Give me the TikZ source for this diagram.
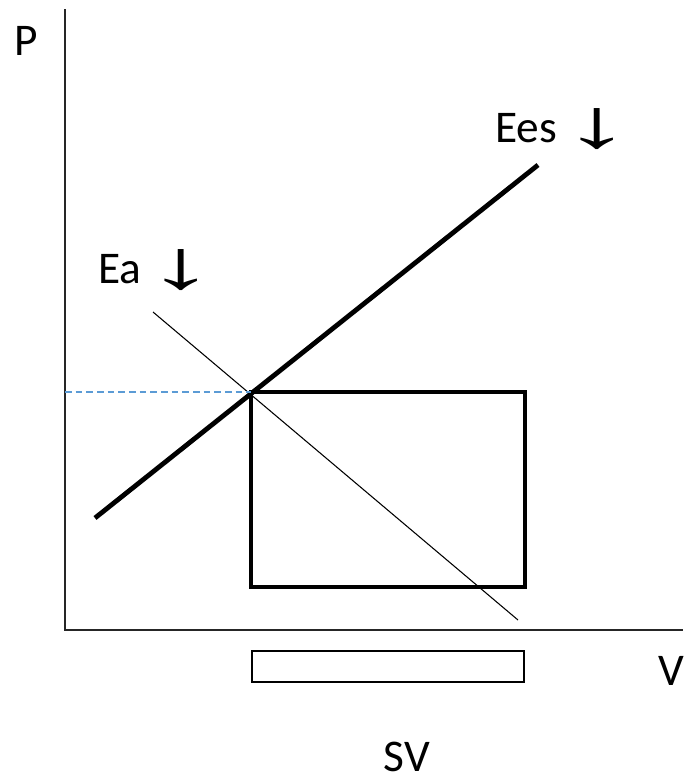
\documentclass[tikz,border=0pt]{standalone}
\usepackage{fontspec}
\setmainfont{Carlito}
\newfontfamily\arrowfont{Liberation Sans}
\usetikzlibrary{positioning,calc}
\definecolor{DiagBlue}{HTML}{5B9BD5}
\newcommand{\downarr}{\hspace{4pt}\raisebox{-4pt}{\scalebox{2}[1]{\arrowfont\fontsize{52}{56}\selectfont\char"2193}}}

\begin{document}
\begin{tikzpicture}[
    x=0.75pt, y=-0.75pt,
    lbl/.style={inner sep=0pt, font=\fontsize{34}{40}\selectfont, anchor=base west},
    axis/.style={line width=0.8pt, draw=black!85},
    thickline/.style={line width=3.6pt, draw=black},
    thinline/.style={line width=0.8pt, draw=black},
    loopbox/.style={line width=3.6pt, draw=black},
    svbox/.style={line width=1.6pt, draw=black},
    level/.style={line width=0.9pt, draw=DiagBlue, dash pattern=on 5pt off 3pt}
  ]
    \useasboundingbox (0,0) rectangle (683,775);
    % axes
    \coordinate (origin) at (65,630);
    \coordinate (ytop) at (65,9);
    \coordinate (xend) at (683,630);
    \draw[axis] (ytop) -- (origin) -- (xend);
    \node[lbl] (plabel) at (14,55) {P};
    \node[lbl] (vlabel) at (658,685) {V};
    % elastance lines
    \coordinate (ees0) at (95,518);
    \coordinate (ees1) at (538,165);
    \coordinate (ea0) at (153,312);
    \coordinate (ea1) at (518,620);
    \draw[thickline] (ees0) -- (ees1);
    \draw[thinline] (ea0) -- (ea1);
    \node[lbl] (eeslabel) at (495,142) {Ees\downarr};
    \node[lbl] (ealabel) at (98,283) {Ea\downarr};
    % pressure-volume loop
    \coordinate (es) at (251,392);
    \coordinate (ed) at (525,587);
    \draw[loopbox] (es) rectangle (ed);
    \coordinate (pes) at (65,392);
    \draw[level] (pes) -- (es);
    % stroke volume
    \coordinate (sv0) at (252,651);
    \coordinate (sv1) at (524,682);
    \draw[svbox] (sv0) rectangle (sv1);
    \node[lbl, anchor=base] (svlabel) at (407,771) {SV};
  \end{tikzpicture}
\end{document}
